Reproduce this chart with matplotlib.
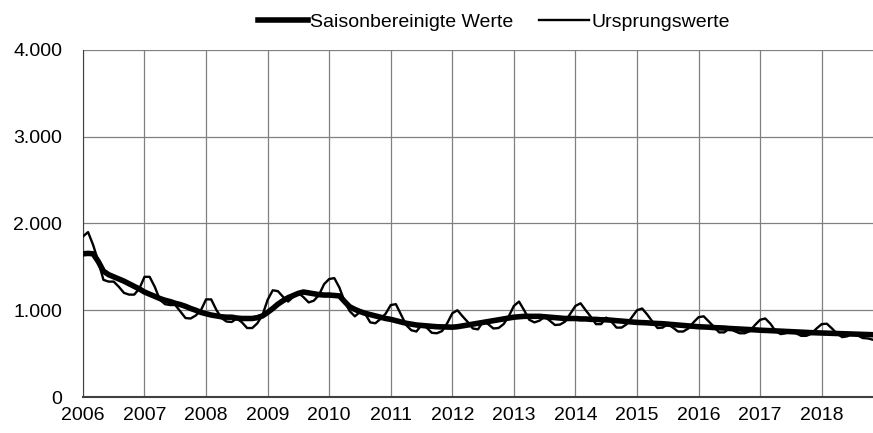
import numpy as np
import matplotlib
matplotlib.use("Agg")
import matplotlib.pyplot as plt
from matplotlib.ticker import FuncFormatter

plt.rcParams['font.family'] = ['Liberation Sans', 'DejaVu Sans']

# Monatswerte Jan 2006 bis Nov 2018 (aus der Grafik geschätzt)
saisonbereinigt = [
    1650, 1655, 1650, 1560, 1450, 1410, 1385, 1360, 1335, 1305, 1275, 1245,  # 2006
    1210, 1185, 1160, 1135, 1115, 1100, 1080, 1065, 1045, 1020, 1000, 975,   # 2007
    960, 945, 935, 925, 920, 920, 910, 905, 905, 905, 915, 935,              # 2008
    975, 1020, 1070, 1110, 1145, 1170, 1195, 1210, 1200, 1190, 1180, 1175,   # 2009
    1175, 1170, 1165, 1100, 1040, 1010, 985, 965, 950, 935, 920, 905,        # 2010
    895, 880, 865, 850, 840, 830, 825, 820, 815, 810, 808, 805,              # 2011
    805, 810, 820, 830, 840, 850, 860, 870, 880, 890, 900, 910,              # 2012
    920, 925, 930, 930, 930, 930, 925, 920, 915, 910, 905, 905,              # 2013
    905, 900, 900, 895, 895, 890, 890, 885, 880, 875, 870, 865,              # 2014
    860, 858, 855, 850, 848, 845, 840, 835, 830, 825, 820, 815,              # 2015
    810, 808, 805, 800, 798, 795, 790, 787, 784, 780, 777, 774,              # 2016
    770, 768, 765, 762, 760, 757, 754, 751, 748, 745, 742, 740,              # 2017
    738, 735, 733, 731, 729, 727, 725, 723, 721, 720, 718,                   # 2018
]
ursprung = [
    1850, 1900, 1750, 1560, 1350, 1330, 1330, 1270, 1200, 1180, 1180, 1250,  # 2006
    1385, 1385, 1270, 1120, 1070, 1060, 1060, 985, 910, 905, 940, 1000,      # 2007
    1125, 1125, 1005, 910, 870, 865, 905, 860, 795, 795, 850, 945,           # 2008
    1120, 1230, 1220, 1155, 1100, 1155, 1200, 1150, 1090, 1110, 1175, 1300,  # 2009
    1360, 1370, 1260, 1100, 990, 930, 980, 960, 860, 850, 900, 960,          # 2010
    1060, 1070, 950, 830, 770, 755, 830, 800, 740, 735, 760, 850,            # 2011
    965, 1000, 930, 865, 790, 780, 870, 840, 790, 795, 840, 930,             # 2012
    1050, 1100, 1000, 890, 860, 880, 925, 880, 830, 835, 870, 960,           # 2013
    1050, 1080, 1000, 925, 840, 840, 915, 870, 800, 800, 840, 920,           # 2014
    1000, 1020, 950, 870, 795, 800, 840, 800, 755, 755, 790, 860,            # 2015
    920, 930, 870, 810, 745, 745, 790, 760, 735, 735, 760, 830,              # 2016
    890, 905, 845, 760, 725, 735, 770, 735, 705, 705, 730, 790,              # 2017
    840, 845, 790, 730, 690, 700, 735, 710, 680, 675, 660,                   # 2018
]
jahre = list(range(2006, 2019))
y_ticks = [0, 1000, 2000, 3000, 4000]

x = np.arange(len(ursprung))

fig = plt.figure(figsize=(8.73, 4.33), dpi=100)
ax = fig.add_axes([0.095, 0.083, 0.905, 0.802])

ax.plot(x, saisonbereinigt, color='black', lw=4.0, solid_joinstyle='round',
        label='Saisonbereinigte Werte', zorder=3)
ax.plot(x, ursprung, color='black', lw=1.7, label='Ursprungswerte', zorder=4)

ax.set_xlim(0, len(ursprung) - 1)
ax.set_ylim(0, 4000)
ax.set_xticks([12 * i for i in range(len(jahre))])
ax.set_xticklabels([str(j) for j in jahre])
ax.set_yticks(y_ticks)
ax.yaxis.set_major_formatter(FuncFormatter(lambda v, p: f"{int(v):,}".replace(",", ".")))

ax.grid(True, color='#808080', lw=0.9, zorder=0)
ax.tick_params(length=0, labelsize=14)
ax.tick_params(axis='y', pad=15)
ax.tick_params(axis='x', pad=7)

for s in ['right', 'top']:
    ax.spines[s].set_visible(False)
ax.spines['left'].set_color('#404040')
ax.spines['bottom'].set_color('#404040')
ax.spines['bottom'].set_linewidth(1.5)

ax.legend(loc='lower center', bbox_to_anchor=(0.52, 1.005), ncol=2, frameon=False,
          fontsize=14, handlelength=2.6, handletextpad=0.1, columnspacing=1.3)

plt.savefig('out.png', dpi=100)
